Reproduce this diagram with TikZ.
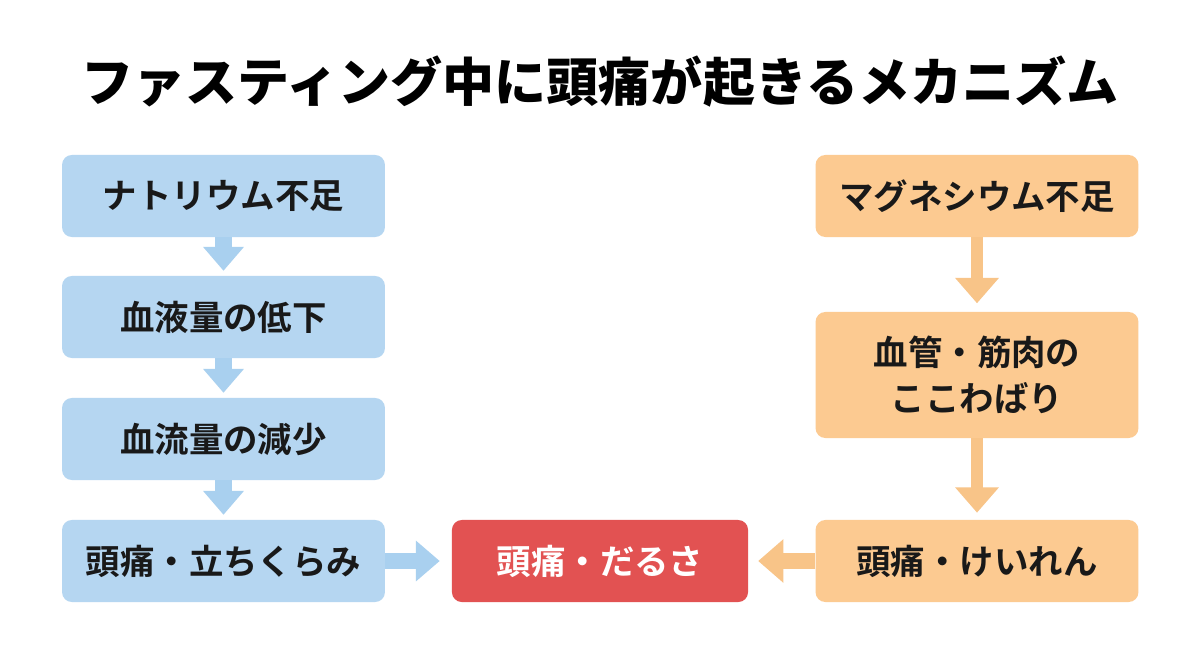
\documentclass[tikz,border=0pt]{standalone}
\usepackage{fontspec}
\newfontfamily\jp{Noto Sans CJK JP Bold}
\newfontfamily\jpblack{Noto Sans CJK JP Black}
\usetikzlibrary{arrows.meta}
\definecolor{boxblue}{HTML}{B5D6F1}
\definecolor{boxorange}{HTML}{FCCA91}
\definecolor{boxred}{HTML}{E25252}
\definecolor{arrblue}{HTML}{A9D0EF}
\definecolor{arrorange}{HTML}{F8C488}
\tikzset{
	stepbox/.style={rounded corners=7pt, minimum width=8.07cm, minimum height=2.05cm,
		align=center, font=\jp\fontsize{24.5}{33}\selectfont, text=black!90},
	bluebox/.style={stepbox, fill=boxblue},
	orangebox/.style={stepbox, fill=boxorange},
	redbox/.style={stepbox, fill=boxred, text=white, minimum width=7.4cm},
	bluearrow/.style={draw=arrblue, line width=12pt, -{Triangle[length=17pt,width=28pt]}},
	orangearrow/.style={draw=arrorange, line width=9pt, -{Triangle[length=18pt,width=30pt]}}
}
\begin{document}
\begin{tikzpicture}[x=0.025cm,y=-0.025cm]
				\useasboundingbox[fill=white] (0,0) rectangle (1200,670);
				\node[font=\jpblack\fontsize{37}{40}\selectfont] (title) at (600,82) {ファスティング中に頭痛が起きるメカニズム};
				% left column
				\node[bluebox] (na) at (223.5,196) {ナトリウム不足};
				\node[bluebox] (vol) at (223.5,317) {血液量の低下};
				\node[bluebox] (flow) at (223.5,439) {血流量の減少};
				\node[bluebox] (dizzy) at (223.5,561) {頭痛・立ちくらみ};
				% right column
				\node[orangebox] (mg) at (977,196) {マグネシウム不足};
				\node[orangebox, minimum height=3.15cm] (stiff) at (977,375) {血管・筋肉の\\ここわばり};
				\node[orangebox] (cramp) at (977,561) {頭痛・けいれん};
				% result
				\node[redbox] (result) at (600,561) {頭痛・だるさ};
				\foreach \a/\b in {na/vol,vol/flow,flow/dizzy} {
					\draw[bluearrow, shorten >=3.5pt] (\a) -- (\b);
				};
				\draw[orangearrow, shorten >=6pt] (mg) -- (stiff);
				\draw[orangearrow, shorten >=5pt] (stiff) -- (cramp);
				\draw[bluearrow, shorten >=8.5pt] (dizzy) -- (result);
				\draw[orangearrow, line width=12pt, shorten >=7pt] (cramp) -- (result);
\end{tikzpicture}
\end{document}
